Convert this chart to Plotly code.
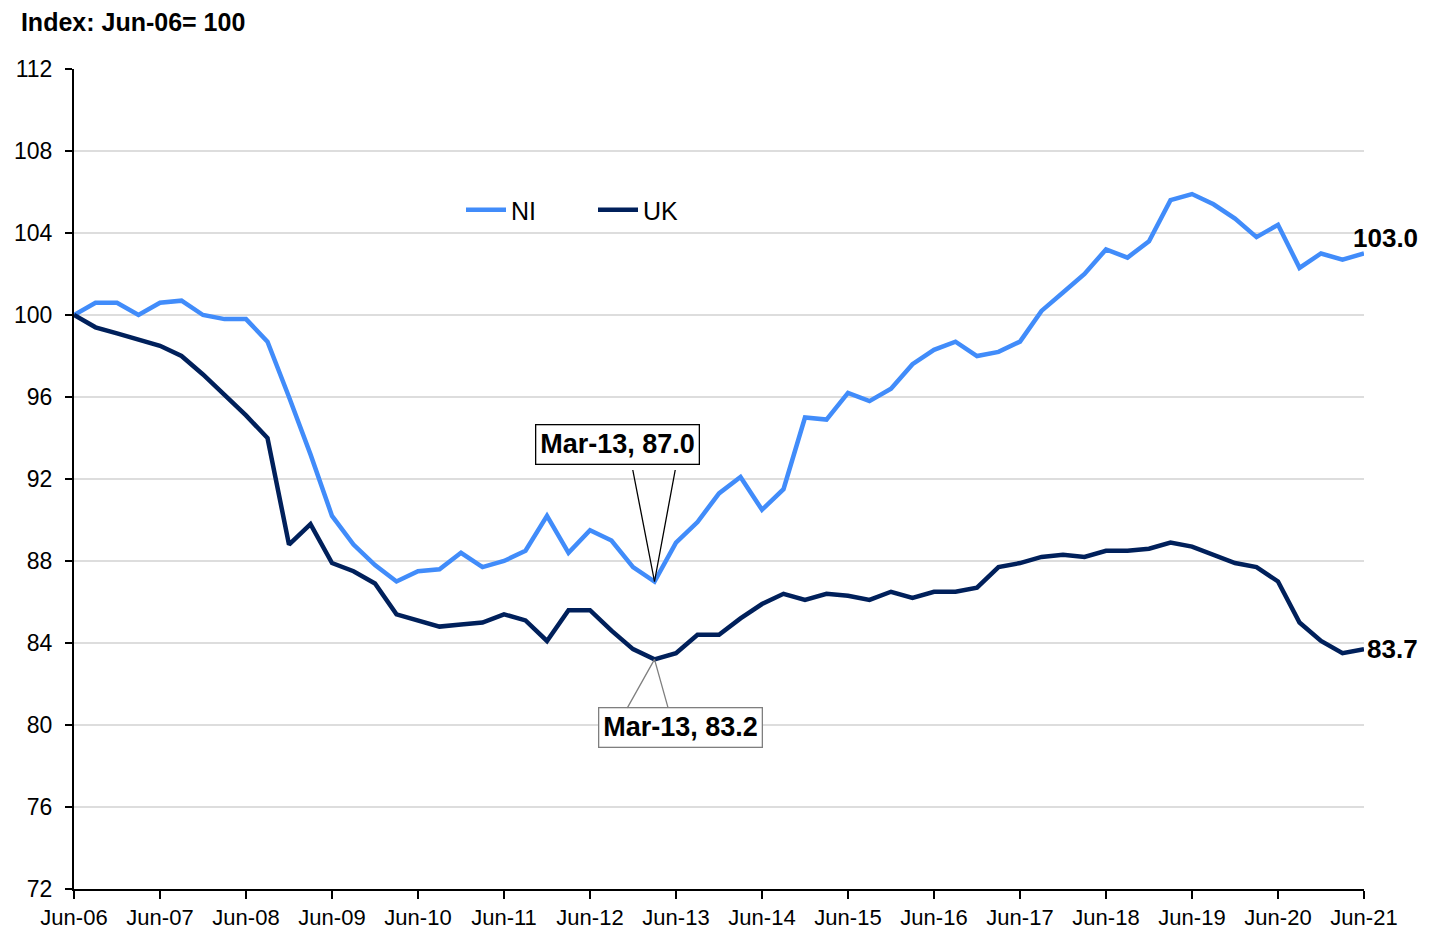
#!/usr/bin/env python
"""
NI vs UK index chart (Jun-06 = 100), quarterly Jun-06 to Jun-21
"""

import plotly.graph_objs as go

MONTHS = ["Jun", "Sep", "Dec", "Mar"]
quarters = []
for i in range(61):
    yr = 6 + (i + 2) // 4 if i % 4 == 3 else 6 + i // 4
    quarters.append("{}-{:02d}".format(MONTHS[i % 4], yr))

ni = [100.0, 100.6, 100.6, 100.0, 100.6, 100.7, 100.0, 99.8, 99.8, 98.7,
      96.0, 93.2, 90.2, 88.8, 87.8, 87.0, 87.5, 87.6, 88.4, 87.7,
      88.0, 88.5, 90.2, 88.4, 89.5, 89.0, 87.7, 87.0, 88.9, 89.9,
      91.3, 92.1, 90.5, 91.5, 95.0, 94.9, 96.2, 95.8, 96.4, 97.6,
      98.3, 98.7, 98.0, 98.2, 98.7, 100.2, 101.1, 102.0, 103.2, 102.8,
      103.6, 105.6, 105.9, 105.4, 104.7, 103.8, 104.4, 102.3, 103.0, 102.7,
      103.0]
uk = [100.0, 99.4, 99.1, 98.8, 98.5, 98.0, 97.1, 96.1, 95.1, 94.0,
      88.8, 89.8, 87.9, 87.5, 86.9, 85.4, 85.1, 84.8, 84.9, 85.0,
      85.4, 85.1, 84.1, 85.6, 85.6, 84.6, 83.7, 83.2, 83.5, 84.4,
      84.4, 85.2, 85.9, 86.4, 86.1, 86.4, 86.3, 86.1, 86.5, 86.2,
      86.5, 86.5, 86.7, 87.7, 87.9, 88.2, 88.3, 88.2, 88.5, 88.5,
      88.6, 88.9, 88.7, 88.3, 87.9, 87.7, 87.0, 85.0, 84.1, 83.5,
      83.7]

tick_idx = list(range(0, 61, 4))
tick_labels = [quarters[i] for i in tick_idx]
y_ticks = list(range(72, 113, 4))

NI_COL = "#418CFA"
UK_COL = "#00205B"
FONT = "Liberation Sans, Arial, sans-serif"

fig = go.Figure()
fig.add_trace(go.Scatter(x=quarters, y=ni, name="NI", mode="lines",
                         line=dict(color=NI_COL, width=4.5)))
fig.add_trace(go.Scatter(x=quarters, y=uk, name="UK", mode="lines",
                         line=dict(color=UK_COL, width=4.5)))

# NI minimum callout
low = 27
fig.add_annotation(x=quarters[low], y=ni[low], text="<b>Mar-13, 87.0</b>",
                   showarrow=False, yshift=137, xshift=-37,
                   font=dict(family=FONT, size=27, color="black"),
                   bgcolor="white", bordercolor="black", borderwidth=1.3,
                   borderpad=4)
for dx in (-22, 21):
    fig.add_annotation(x=quarters[low], y=ni[low], text="", showarrow=True,
                       arrowhead=0, arrowwidth=1.3, arrowcolor="black",
                       ax=dx, ay=-113, standoff=0)

# UK minimum callout
fig.add_annotation(x=quarters[low], y=uk[low], text="<b>Mar-13, 83.2</b>",
                   showarrow=False, yshift=-68, xshift=26,
                   font=dict(family=FONT, size=27, color="black"),
                   bgcolor="white", bordercolor="#7F7F7F", borderwidth=1.3,
                   borderpad=4)
for dx in (-28, 14):
    fig.add_annotation(x=quarters[low], y=uk[low], text="", showarrow=True,
                       arrowhead=0, arrowwidth=1.3, arrowcolor="#7F7F7F",
                       ax=dx, ay=50, standoff=0)

# end labels
fig.add_annotation(x=quarters[-1], y=ni[-1], text="<b>{:.1f}</b>".format(ni[-1]),
                   showarrow=False, xanchor="center", yshift=16, xshift=21,
                   font=dict(family=FONT, size=26, color="black"))
fig.add_annotation(x=quarters[-1], y=uk[-1], text="<b>{:.1f}</b>".format(uk[-1]),
                   showarrow=False, xanchor="left", yshift=0, xshift=1,
                   font=dict(family=FONT, size=26, color="black"))

fig.update_xaxes(type="category", range=[0, 60], tickvals=tick_labels,
                 ticktext=tick_labels, showgrid=False, showline=True,
                 linecolor="black", linewidth=2, ticks="outside", ticklen=8,
                 tickwidth=2, tickcolor="black", automargin=False,
                 tickfont=dict(family=FONT, size=22, color="black"))
fig.update_yaxes(range=[72, 112], tickvals=y_ticks, showgrid=True,
                 gridcolor="#DDDDDD", gridwidth=2, showline=True,
                 linecolor="black", linewidth=2, ticks="outside", ticklen=7,
                 tickwidth=2, tickcolor="black", zeroline=False,
                 ticklabelstandoff=8, automargin=False,
                 tickfont=dict(family=FONT, size=23, color="black"))
# page body adds an 8px offset, so margins compensate for it
fig.update_layout(
    width=1437, height=930,
    margin=dict(l=66, r=81, t=61, b=49),
    plot_bgcolor="white", paper_bgcolor="white",
    font=dict(family=FONT, color="black"),
    title=dict(text="<b>Index: Jun-06= 100</b>", xref="container", yref="container",
               x=0.009, y=0.985, xanchor="left", yanchor="middle",
               font=dict(family=FONT, size=25, color="black")),
    legend=dict(orientation="h", x=0.3, y=0.828, xanchor="left", yanchor="middle",
                font=dict(family=FONT, size=25, color="black"),
                bgcolor="rgba(0,0,0,0)", itemwidth=40, entrywidth=77),
    showlegend=True,
)

fig.write_html("out.html")
